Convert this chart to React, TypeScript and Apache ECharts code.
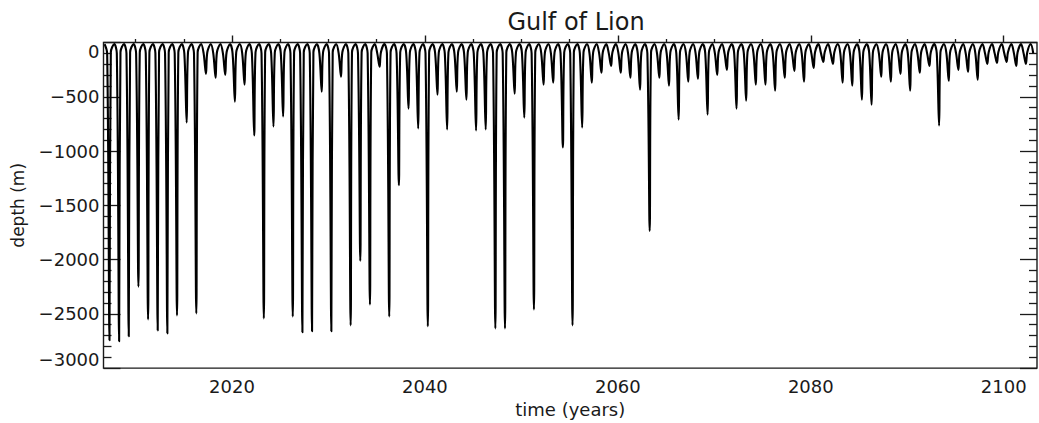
import React, { useEffect, useRef } from "react";
import * as echarts from "echarts";

// ---- data ----
const FIRST_YEAR = 2007;
// winter mixed-layer depth minimum of each year (m), 2007 .. 2102
const winterMin = [
  -2743, -2753, -2707, -2249, -2551, -2652, -2680, -2514, -737, -2496,
  -289, -325, -298, -545, -389, -856, -2542, -774, -682, -2524,
  -2670, -2661, -453, -2661, -316, -2606, -2011, -2414, -224, -2524,
  -1315, -609, -792, -2615, -481, -801, -453, -527, -811, -801,
  -2634, -2634, -472, -692, -2459, -389, -371, -966, -2606, -783,
  -371, -279, -215, -279, -325, -435, -1736, -325, -398, -710,
  -362, -334, -664, -298, -252, -609, -536, -389, -389, -444,
  -325, -261, -362, -234, -179, -197, -371, -398, -527, -573,
  -316, -362, -289, -444, -279, -215, -765, -353, -252, -270,
  -343, -197, -188, -179, -215, -197,
];
// seasonal levels between winters (m) and timing of the winter minimum (fraction of year)
const SUMMER_LEVEL = -15;
const AUTUMN_LEVEL = -100;
const SPRING_LEVEL = -90;
const DIP_OFFSET = 0.3;

const X_MIN = 2006.68;
const X_MAX = 2103.45;
const xLabelYears = [2020, 2040, 2060, 2080, 2100];
const xMinorYears = [2010, 2015, 2025, 2030, 2035, 2045, 2050, 2055, 2065, 2070, 2075, 2085, 2090, 2095];
const Y_MIN = -3000;
const Y_MAX = 0;
const Y_STEP = 500;

function buildLine(): number[][] {
  const pts: number[][] = [];
  winterMin.forEach((v, i) => {
    const d = FIRST_YEAR + i + DIP_OFFSET;
    pts.push([d - 0.5, SUMMER_LEVEL]);
    pts.push([d - 0.24, AUTUMN_LEVEL]);
    pts.push([d, v]);
    pts.push([d + 0.14, SPRING_LEVEL]);
  });
  const next = FIRST_YEAR + winterMin.length + DIP_OFFSET;
  pts.push([next - 0.5, SUMMER_LEVEL]);
  pts.push([next - 0.24, AUTUMN_LEVEL]);
  return pts;
}

const FONT = "DejaVu Sans";
const INK = "#1a1a1a";

export default function App() {
  const ref = useRef<HTMLDivElement>(null);
  useEffect(() => {
    if (!ref.current) return;
    const chart = echarts.init(ref.current, undefined, { renderer: "svg" });
    const yAxisCommon = {
      type: "value",
      min: Y_MIN,
      max: Y_MAX,
      interval: Y_STEP,
      axisLine: { show: false },
      splitLine: { show: false },
      axisTick: { show: true, inside: true, length: 17, lineStyle: { color: INK, width: 1.3 } },
      minorTick: { show: true, splitNumber: 5, length: 8, lineStyle: { color: INK, width: 1.3 } },
    };
    chart.setOption({
      animation: false,
      backgroundColor: "#ffffff",
      title: {
        text: "Gulf of Lion",
        left: 571,
        top: 5,
        textAlign: "center",
        textStyle: { fontFamily: FONT, fontSize: 24, fontWeight: "normal", color: INK },
      },
      grid: {
        left: 103.5,
        right: 2,
        top: 42.5,
        bottom: 53,
        show: true,
        borderColor: INK,
        borderWidth: 1.4,
        backgroundColor: "transparent",
      },
      xAxis: [
        {
          type: "value",
          min: X_MIN,
          max: X_MAX,
          position: "bottom",
          axisLine: { show: false },
          splitLine: { show: false },
          axisTick: { show: true, inside: true, length: 7, customValues: xLabelYears, lineStyle: { color: INK, width: 1.4 } },
          axisLabel: {
            customValues: xLabelYears,
            margin: 9,
            fontFamily: FONT,
            fontSize: 18,
            color: INK,
            formatter: (v: number) => String(v),
          },
          name: "time (years)",
          nameLocation: "middle",
          nameGap: 30,
          nameTextStyle: { fontFamily: FONT, fontSize: 18, color: INK },
        },
        {
          type: "value",
          min: X_MIN,
          max: X_MAX,
          position: "bottom",
          axisLine: { show: false },
          splitLine: { show: false },
          axisTick: { show: true, inside: true, length: 3.5, customValues: xMinorYears, lineStyle: { color: INK, width: 1.3 } },
          axisLabel: { show: false },
        },
      ],
      yAxis: [
        {
          ...yAxisCommon,
          position: "left",
          axisLabel: {
            margin: 4,
            fontFamily: FONT,
            fontSize: 18,
            color: INK,
            verticalAlignMinLabel: "bottom",
            verticalAlignMaxLabel: "top",
            formatter: (v: number) => (v < 0 ? "\u2212" + String(-v) : String(v)),
          },
          name: "depth (m)",
          nameLocation: "middle",
          nameGap: 77,
          nameTextStyle: { fontFamily: FONT, fontSize: 17, color: INK },
        },
        {
          ...yAxisCommon,
          position: "right",
          axisLabel: { show: false },
        },
      ],
      series: [
        {
          type: "line",
          xAxisIndex: 0,
          yAxisIndex: 0,
          data: buildLine(),
          showSymbol: false,
          smooth: 0.35,
          clip: true,
          lineStyle: { color: "#000000", width: 2.1 },
        },
      ],
    });
    return () => chart.dispose();
  }, []);
  return (
    <div
      ref={ref}
      style={{ position: "fixed", left: 0, top: 0, width: 1039, height: 423, background: "#fff" }}
    />
  );
}
